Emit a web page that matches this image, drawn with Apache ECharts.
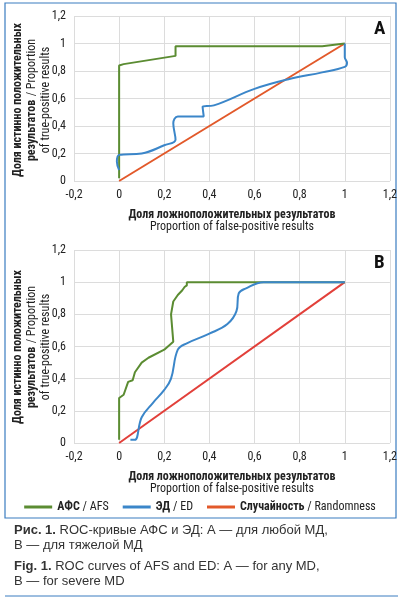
<!DOCTYPE html>
<html><head><meta charset="utf-8">
<script src="https://cdn.jsdelivr.net/npm/echarts@6/dist/echarts.min.js"></script>
<style>html,body{margin:0;padding:0;background:#fff}#c{width:400px;height:603px}</style>
</head><body><div id="c"></div>
<script>
const xTicks = [-0.2,0,0.2,0.4,0.6,0.8,1,1.2];
const afsA = [[0,0.02],[0,0.84],[0.02,0.85],[0.25,0.91],[0.25,0.98],[0.9,0.98],[1,1]];
const edA = [[0,0.08],[-0.01,0.14],[0,0.19],[0.1,0.2],[0.2,0.26],[0.25,0.3],[0.24,0.42],[0.26,0.47],[0.32,0.47],[0.375,0.47],[0.37,0.54],[0.42,0.55],[0.6,0.67],[0.75,0.74],[0.9,0.79],[1.0,0.83],[1.01,0.86],[1,0.9],[1,1]];
const randA = [[0,0],[1,1]];
const afsB = [[0,0.02],[0,0.28],[0.02,0.3],[0.04,0.38],[0.06,0.39],[0.07,0.44],[0.1,0.5],[0.13,0.53],[0.2,0.58],[0.24,0.63],[0.23,0.8],[0.24,0.88],[0.26,0.92],[0.28,0.95],[0.29,0.97],[0.3,0.98],[0.3,1.0],[0.6,1],[1,1]];
const edB = [[0.05,0.02],[0.07,0.02],[0.1,0.16],[0.15,0.25],[0.2,0.33],[0.23,0.4],[0.26,0.58],[0.3,0.62],[0.4,0.68],[0.48,0.74],[0.52,0.82],[0.53,0.93],[0.56,0.96],[0.64,1],[1,1]];
const randB = [[0,0],[1,1]];
const names = ['АФС / AFS','ЭД / ED','Случайность / Randomness'];
const F = '"Liberation Sans Narrow","Roboto Condensed","Liberation Sans",sans-serif';
const C = '"Liberation Sans",sans-serif';
const green='#5b8c32', blue='#3b86c9', orangeA='#e2592a', redB='#e2403a';
const fmt = v=>String(Math.round(v*10)/10).replace('.',',');

function xAx(i){return {type:'value',gridIndex:i,min:-0.2,max:1.2,interval:0.2,
  axisLabel:{fontFamily:F,fontSize:12,color:'#222',formatter:fmt},
  axisLine:{show:false},axisTick:{show:false},splitLine:{lineStyle:{color:'#dcdcdc'}},
  name:'{b|Доля ложноположительных результатов}\n{n|Proportion of false-positive results}',
  nameLocation:'middle',nameGap:28,
  nameTextStyle:{rich:{b:{fontFamily:F,fontWeight:'bold',fontSize:12,color:'#222',lineHeight:12},n:{fontFamily:F,fontSize:12,color:'#222',lineHeight:12}}}};}
function yAx(i){return {type:'value',gridIndex:i,min:0,max:1.2,interval:0.2,
  axisLabel:{fontFamily:F,fontSize:12,color:'#222',formatter:fmt},
  axisLine:{show:false},axisTick:{show:false},splitLine:{lineStyle:{color:'#dcdcdc'}}};}
function ln(name,data,color,i,smooth){return {name,type:'line',data,xAxisIndex:i,yAxisIndex:i,showSymbol:false,symbol:'none',smooth:smooth||false,lineStyle:{color,width:2},itemStyle:{color},z:name===names[2]?1:2};}
const yText = {text:'{b|Доля истинно положительных}\n{b|результатов} {n|/ Proportion}\n{n|of true-positive results}',
  rich:{b:{fontFamily:F,fontWeight:'bold',fontSize:12,fill:'#222',lineHeight:14},n:{fontFamily:F,fontSize:12,fill:'#222',lineHeight:14}},align:'center',verticalAlign:'middle'};
const chart = echarts.init(document.getElementById('c'));
chart.setOption({
  animation:false,
  grid:[{left:74,right:10,top:16,height:165},{left:74,right:10,top:250,height:193}],
  xAxis:[xAx(0),xAx(1)], yAxis:[yAx(0),yAx(1)],
  legend:{bottom:85,left:'center',itemWidth:28,itemHeight:3,icon:'rect',itemGap:14,
    data:names,
    formatter:n=>{const p=n.split(' / ');return '{b|'+p[0]+'} / '+p[1];},
    textStyle:{fontFamily:F,fontSize:12,color:'#222',rich:{b:{fontFamily:F,fontWeight:'bold',fontSize:12,color:'#222'}}}},
  series:[ln(names[0],afsA,green,0),ln(names[1],edA,blue,0,0.4),ln(names[2],randA,orangeA,0),
          ln(names[0],afsB,green,1),ln(names[1],edB,blue,1,0.4),ln(names[2],randB,redB,1)],
  graphic:[
    {type:'rect',shape:{x:5,y:3,width:391,height:515},style:{fill:'none',stroke:'#3a7cc0',lineWidth:1.2},silent:true},
    {type:'line',shape:{x1:5,y1:596,x2:398,y2:596},style:{stroke:'#3a7cc0',lineWidth:1}},
    {type:'text',x:374,y:20,style:{text:'A',fontFamily:F,fontWeight:'bold',fontSize:19,fill:'#111'}},
    {type:'text',x:374,y:254,style:{text:'B',fontFamily:F,fontWeight:'bold',fontSize:19,fill:'#111'}},
    {type:'text',x:32,y:100,rotation:Math.PI/2,style:yText},
    {type:'text',x:32,y:347,rotation:Math.PI/2,style:yText},
    {type:'text',x:14,y:523,style:{text:'{b|Рис. 1.} ROC-кривые АФС и ЭД: А — для любой МД,\nВ — для тяжелой МД',
      fontFamily:C,fontSize:13,fill:'#333',lineHeight:15,rich:{b:{fontWeight:'bold',fontFamily:C,fontSize:13,fill:'#333'}}}},
    {type:'text',x:14,y:559,style:{text:'{b|Fig. 1.} ROC curves of AFS and ED: A — for any MD,\nB — for severe MD',
      fontFamily:C,fontSize:13,fill:'#333',lineHeight:15,rich:{b:{fontWeight:'bold',fontFamily:C,fontSize:13,fill:'#333'}}}}
  ]
});
</script></body></html>
